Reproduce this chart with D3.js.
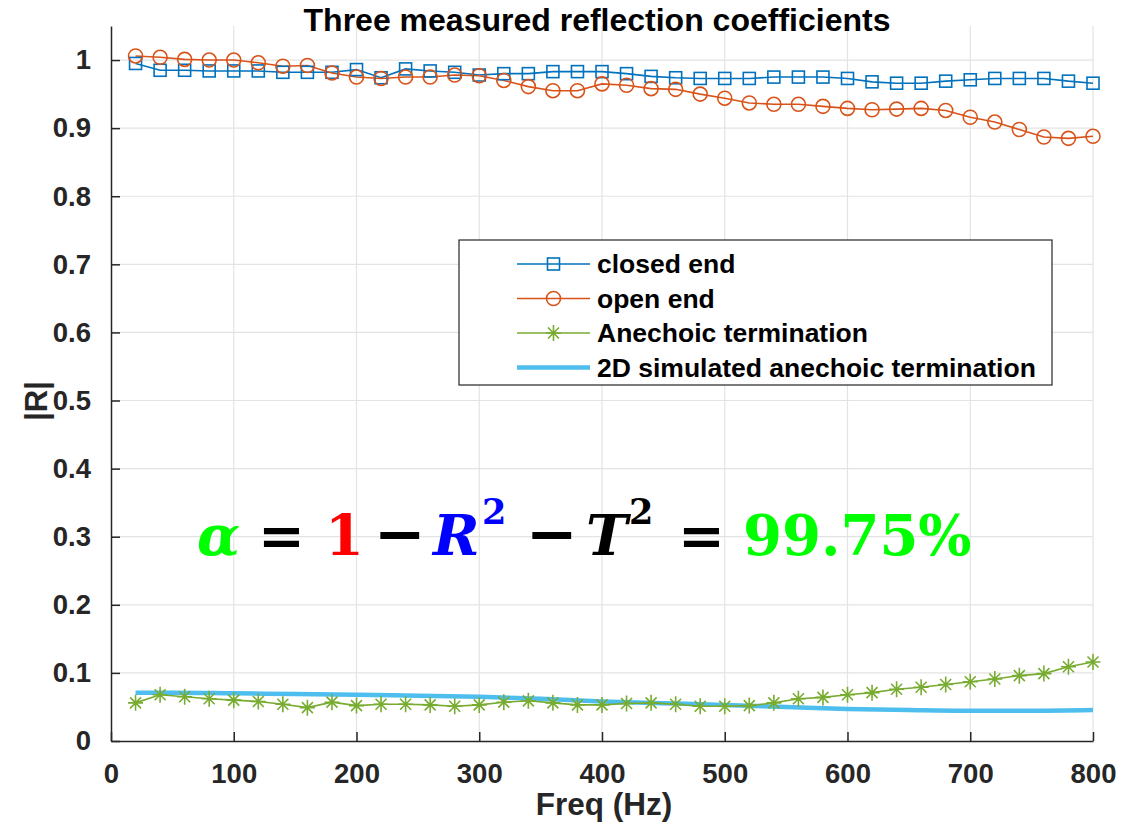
<!DOCTYPE html>
<html>
<head>
<meta charset="utf-8">
<script src="https://cdn.jsdelivr.net/npm/d3@7"></script>
<style>
  body { margin: 0; background: #fff; }
  svg { font-family: "Liberation Sans", Arial, sans-serif; }
  .axis path, .axis line { stroke: #262626; stroke-width: 1.5; }
  .axis text { fill: #262626; font-size: 27.5px; font-weight: bold; }
  .grid line { stroke: #e3e3e3; stroke-width: 1.2; }
</style>
</head>
<body>
<div id="chart"></div>
<script>

// frequencies (Hz) of the measured points
var freq = [20, 40, 60, 80, 100, 120, 140, 160, 180, 200,
    220, 240, 260, 280, 300, 320, 340, 360, 380, 400,
    420, 440, 460, 480, 500, 520, 540, 560, 580, 600,
    620, 640, 660, 680, 700, 720, 740, 760, 780, 800];

var closedEnd = [0.995, 0.985, 0.985, 0.984, 0.984, 0.984, 0.982, 0.982, 0.982, 0.986,
    0.974, 0.987, 0.984, 0.982, 0.978, 0.980, 0.980, 0.983, 0.983, 0.983,
    0.980, 0.976, 0.974, 0.973, 0.973, 0.973, 0.975, 0.975, 0.975, 0.973,
    0.968, 0.966, 0.966, 0.969, 0.971, 0.973, 0.973, 0.973, 0.969, 0.966];

var openEnd = [1.006, 1.004, 1.001, 1.000, 1.000, 0.996, 0.991, 0.992, 0.981, 0.975,
    0.973, 0.975, 0.975, 0.978, 0.977, 0.970, 0.961, 0.955, 0.955, 0.965,
    0.963, 0.958, 0.957, 0.950, 0.944, 0.937, 0.935, 0.935, 0.932, 0.929,
    0.927, 0.928, 0.929, 0.926, 0.916, 0.909, 0.898, 0.887, 0.885, 0.888];

var anechoic = [0.056, 0.068, 0.065, 0.062, 0.060, 0.058, 0.054, 0.049, 0.057, 0.052,
    0.054, 0.054, 0.053, 0.051, 0.053, 0.057, 0.059, 0.056, 0.053, 0.053,
    0.055, 0.056, 0.054, 0.051, 0.051, 0.052, 0.056, 0.062, 0.064, 0.068,
    0.071, 0.076, 0.079, 0.083, 0.087, 0.091, 0.096, 0.099, 0.109, 0.116];

// 2D simulation, sampled along its smooth curve
var simFreq = [20, 50, 100, 150, 200, 250, 300, 350, 400, 450, 500, 550, 600, 650, 700, 750, 800];
var simulated = [0.071, 0.071, 0.070, 0.069, 0.068, 0.0665, 0.065, 0.062, 0.058, 0.0555,
    0.053, 0.050, 0.047, 0.0455, 0.0445, 0.0445, 0.0455];

var xTicks = [0, 100, 200, 300, 400, 500, 600, 700, 800];
var yTicks = [0, 0.1, 0.2, 0.3, 0.4, 0.5, 0.6, 0.7, 0.8, 0.9, 1];

var seriesNames = ["closed end", "open end", "Anechoic termination", "2D simulated anechoic termination"];
var seriesColors = ["#0072BD", "#D95319", "#77AC30", "#4DBEEE"];

class ReflectionChart {

    constructor(_parentElement) {
        this.parentElement = _parentElement;
        this.initVis();
    }

    initVis() {
        var vis = this;

        vis.margin = { top: 26, right: 39, bottom: 83, left: 111 };
        vis.width = 1132 - vis.margin.left - vis.margin.right;
        vis.height = 824 - vis.margin.top - vis.margin.bottom;

        vis.root = d3.select("#" + vis.parentElement).append("svg")
            .attr("width", 1132)
            .attr("height", 824);

        vis.svg = vis.root.append("g")
            .attr("transform", "translate(" + vis.margin.left + "," + vis.margin.top + ")");

        vis.x = d3.scaleLinear().domain([0, 800]).range([0, vis.width]);
        vis.y = d3.scaleLinear().domain([0, 1.05]).range([vis.height, 0]);

        // grid
        vis.svg.append("g").attr("class", "grid")
            .selectAll("line.v").data(xTicks.slice(1)).enter().append("line")
            .attr("x1", d => vis.x(d)).attr("x2", d => vis.x(d))
            .attr("y1", 0).attr("y2", vis.height);
        vis.svg.append("g").attr("class", "grid")
            .selectAll("line.h").data(yTicks.slice(1)).enter().append("line")
            .attr("x1", 0).attr("x2", vis.width)
            .attr("y1", d => vis.y(d)).attr("y2", d => vis.y(d));

        // axes, ticks pointing inward like matlab
        vis.xAxis = d3.axisBottom(vis.x).tickValues(xTicks).tickSizeInner(-9).tickSizeOuter(0).tickPadding(22);
        vis.yAxis = d3.axisLeft(vis.y).tickValues(yTicks).tickSizeInner(-9).tickSizeOuter(0).tickPadding(20)
            .tickFormat(d => d3.format("")(+d.toFixed(1)));

        vis.svg.append("g").attr("class", "x-axis axis")
            .attr("transform", "translate(0," + vis.height + ")")
            .call(vis.xAxis);
        vis.svg.append("g").attr("class", "y-axis axis")
            .call(vis.yAxis);

        vis.svg.selectAll(".x-axis text").attr("dy", "0.71em");

        // titles
        vis.root.append("text")
            .attr("x", 597).attr("y", 31)
            .attr("text-anchor", "middle")
            .style("font-size", "32px").style("font-weight", "bold").style("fill", "#000")
            .text("Three measured reflection coefficients");

        vis.root.append("text")
            .attr("x", 604).attr("y", 815)
            .attr("text-anchor", "middle")
            .style("font-size", "31.5px").style("font-weight", "bold").style("fill", "#262626")
            .text("Freq (Hz)");

        vis.root.append("text")
            .attr("transform", "translate(47,401) rotate(-90)")
            .attr("text-anchor", "middle")
            .style("font-size", "31px").style("font-weight", "bold").style("fill", "#262626")
            .text("|R|");

        vis.wrangleData();
    }

    wrangleData() {
        var vis = this;

        vis.displayData = [
            freq.map((f, i) => ({ f: f, v: closedEnd[i] })),
            freq.map((f, i) => ({ f: f, v: openEnd[i] })),
            freq.map((f, i) => ({ f: f, v: anechoic[i] })),
            simFreq.map((f, i) => ({ f: f, v: simulated[i] }))
        ];

        vis.updateVis();
    }

    updateVis() {
        var vis = this;

        var line = d3.line().x(d => vis.x(d.f)).y(d => vis.y(d.v));
        var smooth = d3.line().curve(d3.curveMonotoneX).x(d => vis.x(d.f)).y(d => vis.y(d.v));

        var starPath = "M0,-8L0,8M-7.5,0L7.5,0M-5.5,-5.5L5.5,5.5M-5.5,5.5L5.5,-5.5";

        // simulated first, the others draw over it
        vis.svg.append("path")
            .datum(vis.displayData[3])
            .attr("fill", "none")
            .attr("stroke", seriesColors[3])
            .attr("stroke-width", 4.5)
            .attr("d", smooth);

        [0, 1, 2].forEach(function(k) {
            vis.svg.append("path")
                .datum(vis.displayData[k])
                .attr("fill", "none")
                .attr("stroke", seriesColors[k])
                .attr("stroke-width", 1.6)
                .attr("d", line);
        });

        vis.svg.selectAll(".sq").data(vis.displayData[0]).enter().append("rect")
            .attr("class", "sq")
            .attr("x", d => vis.x(d.f) - 6).attr("y", d => vis.y(d.v) - 6)
            .attr("width", 12).attr("height", 12)
            .attr("fill", "none").attr("stroke", seriesColors[0]).attr("stroke-width", 1.6);

        vis.svg.selectAll(".circ").data(vis.displayData[1]).enter().append("circle")
            .attr("class", "circ")
            .attr("cx", d => vis.x(d.f)).attr("cy", d => vis.y(d.v))
            .attr("r", 7)
            .attr("fill", "none").attr("stroke", seriesColors[1]).attr("stroke-width", 1.6);

        vis.svg.selectAll(".star").data(vis.displayData[2]).enter().append("path")
            .attr("class", "star")
            .attr("transform", d => "translate(" + vis.x(d.f) + "," + vis.y(d.v) + ")")
            .attr("d", starPath)
            .attr("fill", "none").attr("stroke", seriesColors[2]).attr("stroke-width", 1.6);

        vis.drawLegend();
        vis.drawFormula();
    }

    drawLegend() {
        var vis = this;
        var lg = vis.root.append("g").attr("transform", "translate(459,240)");

        lg.append("rect")
            .attr("width", 593).attr("height", 145)
            .attr("fill", "#fff").attr("stroke", "#262626").attr("stroke-width", 1.2);

        seriesNames.forEach(function(name, i) {
            var yy = 24 + i * 34.5;
            lg.append("line")
                .attr("x1", 58).attr("x2", 131).attr("y1", yy).attr("y2", yy)
                .attr("stroke", seriesColors[i]).attr("stroke-width", i == 3 ? 4.5 : 1.6);
            if (i == 0) {
                lg.append("rect").attr("x", 88.5).attr("y", yy - 6).attr("width", 12).attr("height", 12)
                    .attr("fill", "none").attr("stroke", seriesColors[0]).attr("stroke-width", 1.6);
            } else if (i == 1) {
                lg.append("circle").attr("cx", 94.5).attr("cy", yy).attr("r", 7)
                    .attr("fill", "none").attr("stroke", seriesColors[1]).attr("stroke-width", 1.6);
            } else if (i == 2) {
                lg.append("path").attr("transform", "translate(94.5," + yy + ")")
                    .attr("d", "M0,-8L0,8M-7.5,0L7.5,0M-5.5,-5.5L5.5,5.5M-5.5,5.5L5.5,-5.5")
                    .attr("fill", "none").attr("stroke", seriesColors[2]).attr("stroke-width", 1.6);
            }
            lg.append("text")
                .attr("x", 138).attr("y", yy + 9)
                .style("font-size", "26.5px").style("font-weight", "bold").style("fill", "#000")
                .text(name);
        });
    }

    drawFormula() {
        var vis = this;
        // alpha = 1 - R^2 - T^2 = 99.75%
        var tokens = [
            { t: "\u03B1", x: 197, c: "#00ff00", it: true },
            { t: "=", x: 258, c: "#000" },
            { t: "1", x: 325, c: "#ff0000" },
            { t: "\u2212", x: 374, c: "#000" },
            { t: "R", x: 433, c: "#0000ff", it: true },
            { t: "2", x: 482, c: "#0000ff", sup: true },
            { t: "\u2212", x: 526, c: "#000" },
            { t: "T", x: 586, c: "#000", it: true },
            { t: "2", x: 629, c: "#000", sup: true },
            { t: "=", x: 678, c: "#000" },
            { t: "99.75%", x: 743, c: "#00ff00" }
        ];
        var g = vis.root.append("g");
        g.selectAll("text").data(tokens).enter().append("text")
            .attr("x", d => d.x)
            .attr("y", d => d.sup ? 524 : 555)
            .style("font-family", "'DejaVu Serif', serif")
            .style("font-weight", "bold")
            .style("font-style", d => d.it ? "italic" : "normal")
            .style("font-size", d => d.sup ? "35px" : (d.t == "\u2212" ? "62px" : "56px"))
            .style("fill", d => d.c)
            .text(d => d.t);
    }
}

new ReflectionChart("chart");

</script>
</body>
</html>
